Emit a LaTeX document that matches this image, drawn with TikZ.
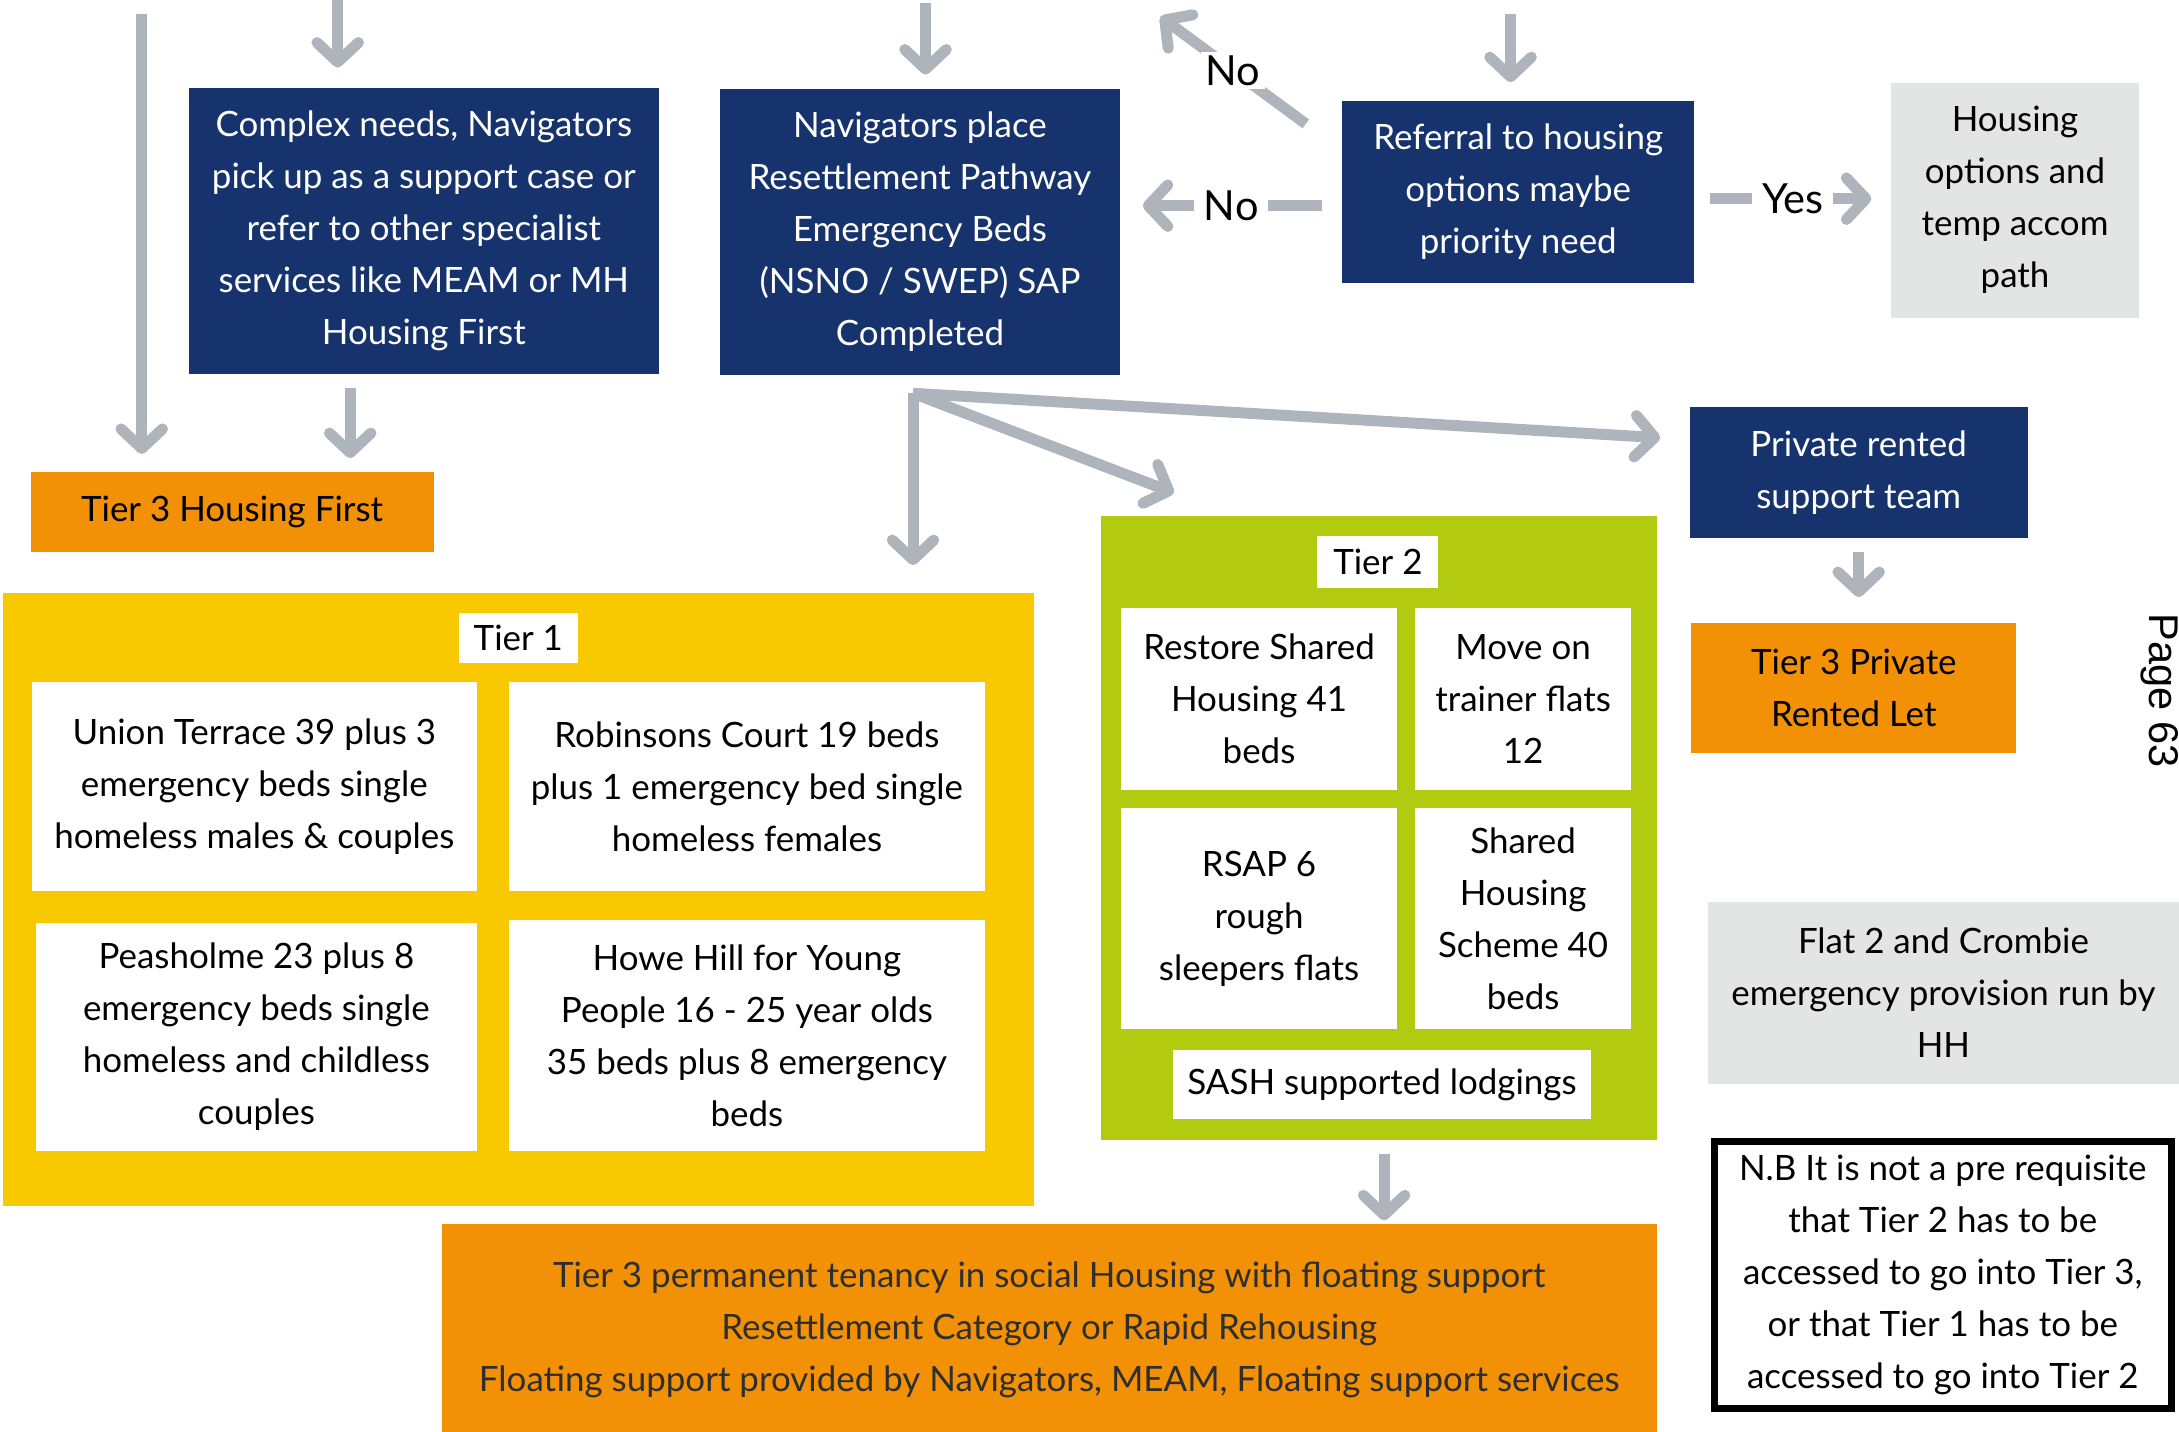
\documentclass[tikz,border=0pt]{standalone}
\usepackage{fontspec}
\setmainfont{Lato}
\newfontfamily\pagefont{Liberation Sans}
\usetikzlibrary{arrows.meta,calc}

\definecolor{navy}{HTML}{16336E}
\definecolor{tierorange}{HTML}{F29106}
\definecolor{tieryellow}{HTML}{F9C900}
\definecolor{tiergreen}{HTML}{B2CB10}
\definecolor{lightgrey}{HTML}{E3E4E4}
\definecolor{arrowgrey}{HTML}{AEB4BC}
\definecolor{darktext}{HTML}{2E2E2E}

\begin{document}
\begin{tikzpicture}[x=0.2mm, y=-0.2mm,
  box/.style={inner sep=0pt, align=center, font={\fontsize{14.3}{21.3}\selectfont}},
  navybox/.style={box, fill=navy, text=white},
  tierbox/.style={box, fill=tierorange},
  greybox/.style={box, fill=lightgrey},
  whitebox/.style={box, fill=white},
  frame/.style={inner sep=0pt},
  flow/.style={draw=arrowgrey, line width=4.5pt, -{Straight Barb[round, length=8pt, width=17pt]}},
  lbl/.style={fill=white, inner xsep=4pt, inner ysep=1.5pt, font={\fontsize{17}{20}\selectfont}}]
  \useasboundingbox (0,0) rectangle (1568,1030);

  % top row
  \node[navybox, minimum width=67.6mm, minimum height=41.2mm] (complex) at (305,166)
    {Complex needs, Navigators\\pick up as a support case or\\refer to other specialist\\services like MEAM or MH\\Housing First};
  \node[navybox, minimum width=57.6mm, minimum height=41.2mm] (nav) at (662,167)
    {Navigators place\\Resettlement Pathway\\Emergency Beds\\(NSNO / SWEP) SAP\\Completed};
  \node[navybox, minimum width=50.6mm, minimum height=26.2mm] (referral) at (1092.5,138)
    {Referral to housing\\options maybe\\priority need};
  \node[greybox, minimum width=35.6mm, minimum height=33.8mm] (options) at (1450,144)
    {Housing\\options and\\temp accom\\path};
  \node[tierbox, minimum width=58mm, minimum height=11.4mm] (hf) at (167,368.5) {Tier 3 Housing First};

  % right column
  \node[navybox, minimum width=48.6mm, minimum height=18.8mm] (prteam) at (1337.5,340) {Private rented\\support team};
  \node[tierbox, minimum width=46.8mm, minimum height=18.8mm] (prlet) at (1334,495) {Tier 3 Private\\Rented Let};
  \node[greybox, minimum width=67.8mm, minimum height=26.2mm] (flat) at (1398.5,714.5)
    {Flat 2 and Crombie\\emergency provision run by\\HH};
  \node[whitebox, draw=black, line width=2.8pt, minimum width=65.8mm, minimum height=38.4mm] (nb) at (1398,917.5)
    {N.B It is not a pre requisite\\that Tier 2 has to be\\accessed to go into Tier 3,\\or that Tier 1 has to be\\accessed to go into Tier 2};
  \node[font={\pagefont\fontsize{17}{19}\selectfont}, rotate=-90, anchor=north, inner sep=0pt] (page) at (1568,497) {Page 63};

  % tier 1
  \node[frame, fill=tieryellow, minimum width=148.4mm, minimum height=88.2mm] (tier1) at (373,647.5) {};
  \node[whitebox, minimum width=17.2mm, minimum height=7.2mm] (tier1lbl) at (373,459) {Tier 1};
  \node[whitebox, minimum width=64mm, minimum height=30mm] (union) at (183,566)
    {Union Terrace 39 plus 3\\emergency beds single\\homeless males \& couples};
  \node[whitebox, minimum width=68.6mm, minimum height=30mm] (robinsons) at (537.5,566)
    {Robinsons Court 19 beds\\plus 1 emergency bed single\\homeless females};
  \node[whitebox, minimum width=63.4mm, minimum height=32.8mm] (peasholme) at (184.5,746)
    {Peasholme 23 plus 8\\emergency beds single\\homeless and childless\\couples};
  \node[whitebox, minimum width=68.6mm, minimum height=33.2mm] (howehill) at (537.5,745)
    {Howe Hill for Young\\People 16 - 25 year olds\\35 beds plus 8 emergency\\beds};

  % tier 2
  \node[frame, fill=tiergreen, minimum width=80mm, minimum height=89.8mm] (tier2) at (992,595.5) {};
  \node[whitebox, minimum width=17.4mm, minimum height=7.4mm] (tier2lbl) at (991.5,404.5) {Tier 2};
  \node[whitebox, minimum width=39.6mm, minimum height=26.2mm] (restore) at (906,503) {Restore Shared\\Housing 41\\beds};
  \node[whitebox, minimum width=31.2mm, minimum height=26.2mm] (moveon) at (1096,503) {Move on\\trainer flats\\12};
  \node[whitebox, minimum width=39.6mm, minimum height=31.8mm] (rsap) at (906,661) {RSAP 6\\rough\\sleepers flats};
  \node[whitebox, minimum width=31.2mm, minimum height=31.8mm] (shared) at (1096,661) {Shared\\Housing\\Scheme 40\\beds};
  \node[whitebox, minimum width=60.2mm, minimum height=10mm] (sash) at (994.5,780.5) {SASH supported lodgings};

  % tier 3
  \node[tierbox, text=darktext, minimum width=174.8mm, minimum height=30.6mm] (perm) at (755,957)
    {Tier 3 permanent tenancy in social Housing with floating support\\Resettlement Category or Rapid Rehousing\\Floating support provided by Navigators, MEAM, Floating support services};

  % arrows
  \coordinate (topA) at (102,10);
  \coordinate (topB) at (243,0);
  \coordinate (topC) at (666,2);
  \coordinate (topD) at (1087,10);
  \coordinate (hfin) at (252,0);
  \coordinate (noUp) at (835,12);
  \coordinate (split) at (657,283);
  \coordinate (t2out) at (996,0);

  \draw[flow, shorten >=2.6mm] (topA) -- (topA |- hf.north);
  \draw[flow, shorten >=2.8mm] (topB) -- (topB |- complex.north);
  \draw[flow, shorten <=2mm, shorten >=2mm] (complex.south -| hfin) -- (hfin |- hf.north);
  \draw[flow, shorten >=2mm] (topC) -- (topC |- nav.north);
  \draw[flow, shorten >=2.6mm] (topD) -- (topD |- referral.north);
  \draw[flow, shorten <=2.8mm, shorten >=3.2mm] ([yshift=-2mm]referral.west) -- ([yshift=-2mm]referral.west -| nav.east)
    node[lbl, midway] {No};
  \draw[flow] ([shift={(-26,17)}]referral.north west) -- (noUp) node[lbl, midway, inner xsep=2pt] {No};
  \draw[flow, shorten <=2.2mm, shorten >=2.8mm] ([yshift=-1mm]referral.east) -- ([yshift=-1mm]referral.east -| options.west)
    node[lbl, midway] {Yes};
  \draw[flow, shorten >=4mm] (split) -- (split |- tier1.north);
  \draw[flow] (split) -- ([shift={(53,-16)}]tier2.north west);
  \draw[flow] (split) -- ([shift={(-21,-25)}]prteam.west);
  \draw[flow, shorten <=2mm, shorten >=3.6mm] (prteam.south) -- (prteam.south |- prlet.north);
  \draw[flow, shorten <=2mm, shorten >=0.4mm] (tier2.south -| t2out) -- (t2out |- perm.north);
\end{tikzpicture}
\end{document}
